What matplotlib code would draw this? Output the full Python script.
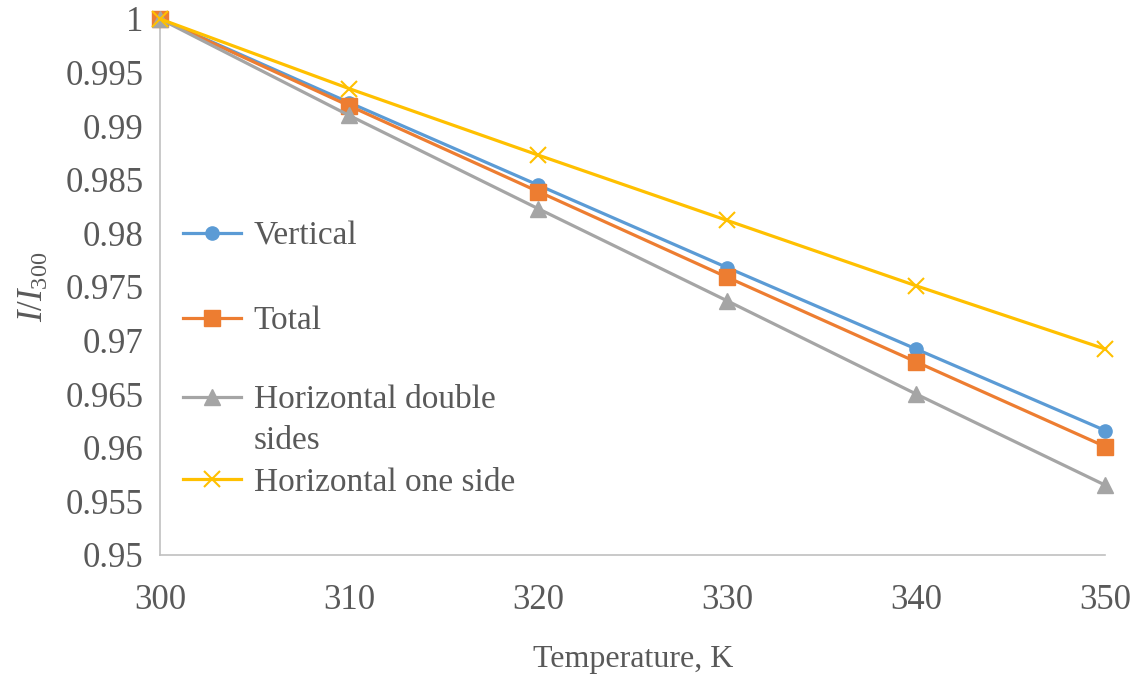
import matplotlib
matplotlib.use("Agg")
import matplotlib.pyplot as plt
from matplotlib.lines import Line2D

temperature = [300, 310, 320, 330, 340, 350]
vertical = [1.0, 0.9922, 0.9845, 0.9768, 0.9692, 0.9616]
total = [1.0, 0.9919, 0.9839, 0.9759, 0.9680, 0.9601]
horiz_double = [1.0, 0.9910, 0.9823, 0.9737, 0.9650, 0.9565]
horiz_one = [1.0, 0.9935, 0.9873, 0.9812, 0.9751, 0.9692]

x_ticks = [300, 310, 320, 330, 340, 350]
y_ticks = [0.95, 0.955, 0.96, 0.965, 0.97, 0.975, 0.98, 0.985, 0.99, 0.995, 1.0]
y_tick_labels = ["0.95", "0.955", "0.96", "0.965", "0.97", "0.975", "0.98", "0.985", "0.99", "0.995", "1"]

text_color = "#595959"
fs = 25
plt.rcParams['font.family'] = ['Liberation Serif', 'DejaVu Serif']
plt.rcParams['mathtext.fontset'] = 'custom'
plt.rcParams['mathtext.rm'] = 'Liberation Serif'
plt.rcParams['mathtext.it'] = 'Liberation Serif:italic'

fig = plt.figure(figsize=(11.35, 6.74), dpi=100)
ax = fig.add_axes([0.141, 0.1766, 0.833, 0.7953])

lw = 2.3
l1, = ax.plot(temperature, vertical, color="#5b9bd5", lw=lw, marker="o", markersize=9.5,
              clip_on=False, zorder=3)
l2, = ax.plot(temperature, total, color="#ed7d31", lw=lw, marker="s", markersize=12,
              clip_on=False, zorder=3)
l3, = ax.plot(temperature, horiz_double, color="#a5a5a5", lw=lw, marker="^", markersize=12,
              clip_on=False, zorder=3)
l4, = ax.plot(temperature, horiz_one, color="#ffc000", lw=lw, marker="x", markersize=12,
              markeredgewidth=1.5, clip_on=False, zorder=3)

ax.set_xlim(300, 350)
ax.set_ylim(0.95, 1.0)
ax.set_xticks(x_ticks)
ax.set_yticks(y_ticks)
ax.set_yticklabels(y_tick_labels)
ax.tick_params(length=0, labelsize=fs, labelcolor=text_color)
ax.tick_params(axis='x', pad=21)
ax.tick_params(axis='y', pad=12)

for side in ["top", "right"]:
    ax.spines[side].set_visible(False)
for side in ["left", "bottom"]:
    ax.spines[side].set_color("#c0c0c0")
    ax.spines[side].set_linewidth(1.2)

ax.set_xlabel("Temperature, K", fontsize=23, color=text_color, labelpad=20)
ax.set_ylabel("$I/I_{300}$", fontsize=fs, color=text_color, labelpad=10)

leg_kw = dict(frameon=False, fontsize=24, labelcolor=text_color, borderaxespad=0.3,
              handlelength=1.74, handletextpad=0.37)
leg1 = ax.legend(handles=[l1, l2], labels=["Vertical", "Total"], loc="upper left",
                 bbox_to_anchor=(0.0, 0.667), labelspacing=1.64, **leg_kw)
ax.add_artist(leg1)
blank = Line2D([], [], linestyle="none")
ax.legend(handles=[l3, blank, l4], labels=["Horizontal double", "sides", "Horizontal one side"],
          loc="upper left", bbox_to_anchor=(0.0, 0.361), labelspacing=0.32, **leg_kw)

fig.savefig("out.png", dpi=100)
